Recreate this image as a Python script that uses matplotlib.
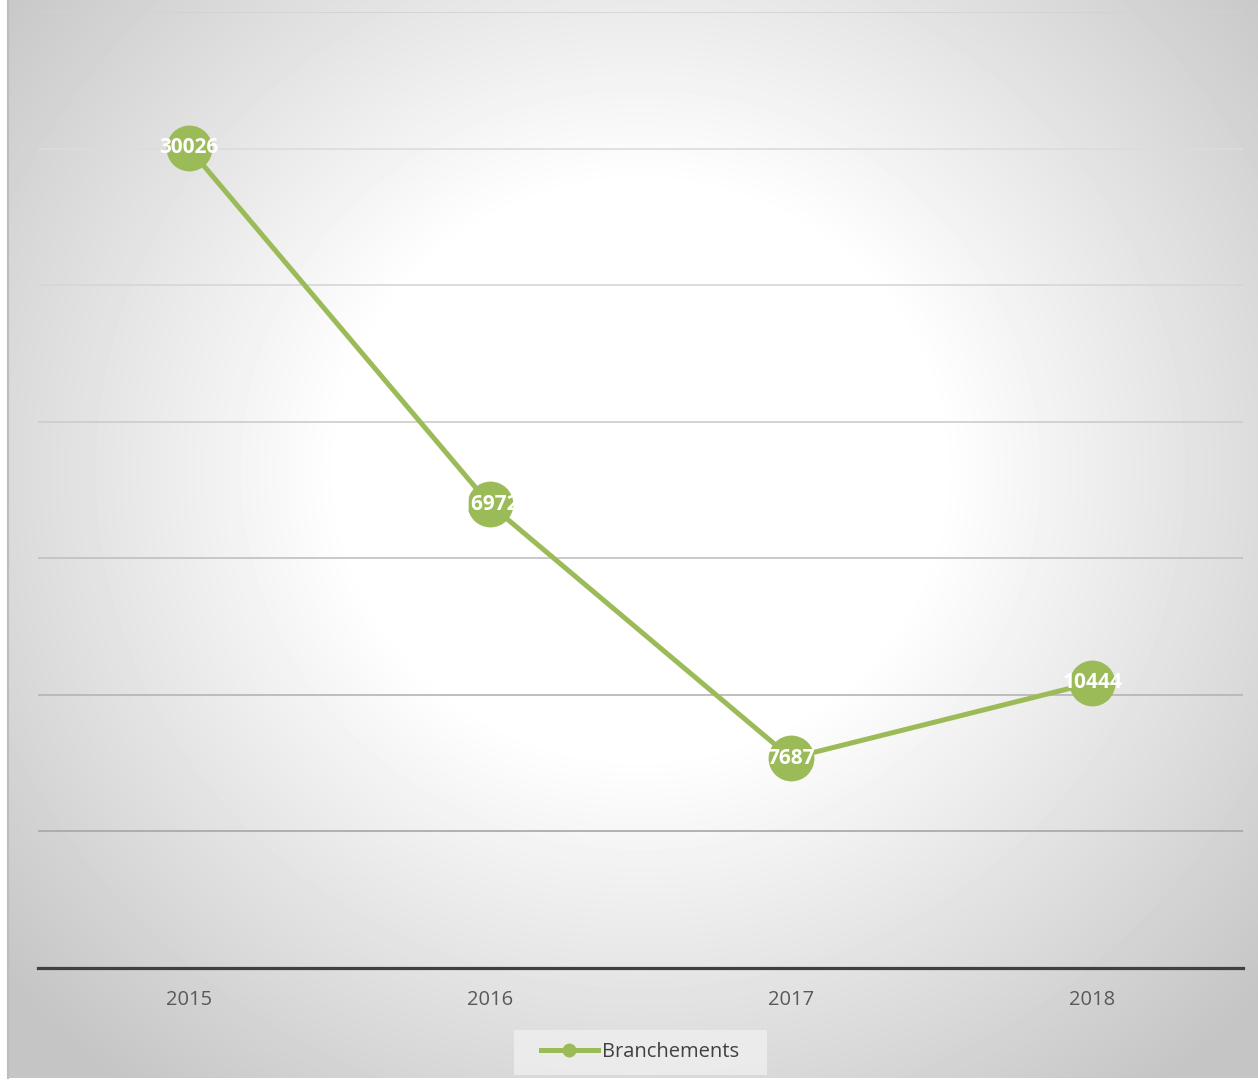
import numpy as np
import matplotlib.pyplot as plt
from matplotlib.patches import Rectangle

# Data
years = ["2015", "2016", "2017", "2018"]
branchements = [30026, 16972, 7687, 10444]
yTicks = [0, 5000, 10000, 15000, 20000, 25000, 30000, 35000]

W, H = 1258, 1081
fig = plt.figure(figsize=(W / 100, H / 100), dpi=100)
fig.patch.set_facecolor("white")

# Radial gradient background (chart area)
bgLeft, bgBottom = 8, 3
bg = fig.add_axes([bgLeft / W, bgBottom / H, (W - bgLeft) / W, (H - bgBottom) / H])
gx, gy = np.meshgrid(np.arange(bgLeft, W), np.arange(0, H - bgBottom))
dist = np.sqrt(((gx - 640) / 1.0) ** 2 + ((gy - 470) / 0.95) ** 2)
shade = np.clip(255 - np.clip(dist - 300, 0, None) * 0.11, 197, 255) / 255.0
bg.imshow(shade, cmap="gray", vmin=0, vmax=1, aspect="auto", interpolation="bilinear")
bg.set_axis_off()
fig.add_artist(plt.Line2D([bgLeft / W, bgLeft / W], [bgBottom / H, 1], color="#bdbdbd", lw=1.5))

# Plot area
axL, axR, axT, axB = 38, 1243, 12, 968
ax = fig.add_axes([axL / W, (H - axB) / H, (axR - axL) / W, (axB - axT) / H])
ax.patch.set_alpha(0)
ax.set_xlim(-0.5, len(years) - 0.5)
ax.set_ylim(0, 35000)
ax.set_yticks(yTicks)
ax.set_yticklabels([])
ax.set_xticks(range(len(years)))
ax.set_xticklabels(years, fontsize=14.5, color="#595959", family="Open Sans")
ax.tick_params(length=0, pad=16)
for s in ["left", "right", "top"]:
    ax.spines[s].set_visible(False)
ax.spines["bottom"].set_color("#404040")
ax.spines["bottom"].set_linewidth(2.3)

ax.grid(axis="y", lw=1.2)
gridColors = ["#404040", "#a6a6a6", "#b4b4b4", "#c0c0c0", "#cccccc", "#d6d6d6", "#dcdcdc", "#d2d2d2"]
for line, c in zip(ax.get_ygridlines(), gridColors):
    line.set_color(c)
ax.set_axisbelow(True)

x = np.arange(len(years))
ax.plot(x, branchements, color="#9bbb59", lw=3.6, marker="o", markersize=33,
        markeredgewidth=0, label="Branchements", zorder=3)
for xi, v in zip(x, branchements):
    ax.text(xi, v, str(v), ha="center", va="center", color="white", fontsize=15,
            fontweight="bold", family="Open Sans", zorder=4)

# Legend with its own light box
fig.add_artist(Rectangle((514 / W, (H - 1075) / H), 253 / W, 45 / H, transform=fig.transFigure,
                         facecolor="#eeeeee", edgecolor="none", alpha=0.85, zorder=1))
handle = plt.Line2D([], [], color="#9bbb59", lw=3.6, marker="o", markersize=9)
leg = fig.legend([handle], ["Branchements"], loc="center", bbox_to_anchor=(640 / W, (H - 1052) / H),
                 frameon=False, handlelength=2.8, handletextpad=0.2,
                 prop={"family": "Open Sans", "size": 14.5})
leg.set_zorder(2)
for t in leg.get_texts():
    t.set_color("#404040")

fig.savefig("out.png", dpi=100)
